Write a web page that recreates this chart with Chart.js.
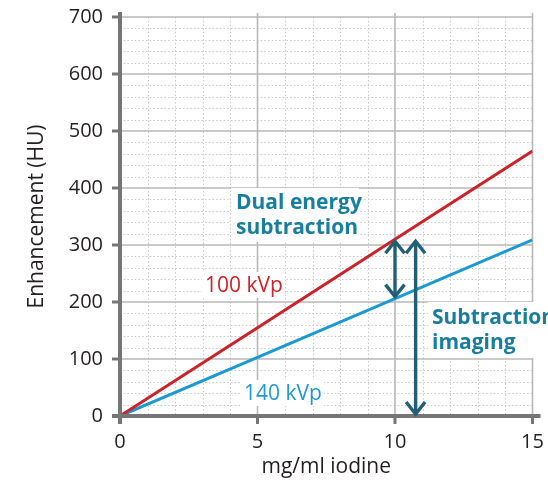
<!DOCTYPE html>
<html><head><meta charset="utf-8">
<script src="https://cdn.jsdelivr.net/npm/chart.js@4/dist/chart.umd.min.js"></script>
<style>html,body{margin:0;padding:0;background:#fff;overflow:hidden}</style>
</head><body>
<canvas id="c" width="548" height="481"></canvas>
<script>
// ---- data ----
const iodine = [0, 5, 10, 15];
const hu100 = [0, 155, 310, 465];
const hu140 = [0, 103, 206, 309];
const seriesLabels = ['100 kVp', '140 kVp'];
const xTickValues = [0, 5, 10, 15];
const yTickValues = [0, 100, 200, 300, 400, 500, 600, 700];
const dualArrow = [10, 206, 310];    // x, from, to
const subArrow = [10.75, 0, 310];    // x, from, to
const dualLabel = ['Dual energy', 'subtraction'];
const subLabel = ['Subtraction', 'imaging'];

const FONT = '"Open Sans", sans-serif';
const TXT = '#231f20';
const RED = '#cc2229';
const BLUE = '#1b9ad2';
const TEAL_TXT = '#177e9e';
const TEAL_ARROW = '#225e74';

const pts = (ys) => iodine.map((x, i) => ({x, y: ys[i]}));

function line(ctx, x1, y1, x2, y2) { ctx.beginPath(); ctx.moveTo(x1, y1); ctx.lineTo(x2, y2); ctx.stroke(); }

const gridPlugin = {
  id: 'gridAxes',
  beforeDatasetsDraw(chart) {
    const {ctx, chartArea: a} = chart;
    const xs = chart.scales.x, ys = chart.scales.y;
    ctx.save();
    // minor dotted grid
    ctx.strokeStyle = '#c8c8c8'; ctx.lineWidth = 1; ctx.setLineDash([1.5, 2.2]);
    for (let v = 1; v < 15; v++) {
      if (v % 5 === 0) continue;
      const px = Math.round(xs.getPixelForValue(v)) + 0.5;
      line(ctx, px, a.top, px, a.bottom);
    }
    for (let v = 20; v < 700; v += 20) {
      if (v % 100 === 0) continue;
      const py = Math.round(ys.getPixelForValue(v)) + 0.5;
      line(ctx, a.left, py, a.right, py);
    }
    // major grid
    ctx.setLineDash([]); ctx.strokeStyle = '#b8b8b8'; ctx.lineWidth = 1.6;
    xs.ticks.forEach(t => { if (t.value === 0) return; const px = xs.getPixelForValue(t.value); line(ctx, px, a.top - 4, px, a.bottom); });
    ys.ticks.forEach(t => { if (t.value === 0) return; const py = ys.getPixelForValue(t.value); line(ctx, a.left, py, a.right, py); });
    ctx.restore();
  },
  afterDatasetsDraw(chart) {
    const {ctx, chartArea: a} = chart;
    const xs = chart.scales.x, ys = chart.scales.y;
    ctx.save();
    // axes
    ctx.strokeStyle = '#767676'; ctx.lineWidth = 4; ctx.lineCap = 'butt';
    const x0 = xs.getPixelForValue(0), y0 = ys.getPixelForValue(0);
    line(ctx, x0, a.top - 5, x0, y0 + 8);
    line(ctx, x0 - 8, y0, a.right + 8, y0);
    ctx.lineWidth = 3;
    ys.ticks.forEach(t => { const py = ys.getPixelForValue(t.value); line(ctx, x0 - 8, py, x0, py); });
    xs.ticks.forEach(t => { const px = xs.getPixelForValue(t.value); line(ctx, px, y0, px, y0 + 8); });

    // arrows
    ctx.strokeStyle = TEAL_ARROW; ctx.lineWidth = 3.4; ctx.lineJoin = 'miter'; ctx.lineCap = 'butt';
    function dArrow(arr) {
      const px = xs.getPixelForValue(arr[0]);
      const yb = ys.getPixelForValue(arr[1]), yt = ys.getPixelForValue(arr[2]);
      line(ctx, px, yt + 2, px, yb - 2);
      ctx.beginPath(); ctx.moveTo(px - 9.5, yt + 14); ctx.lineTo(px, yt + 2); ctx.lineTo(px + 9.5, yt + 14); ctx.stroke();
      ctx.beginPath(); ctx.moveTo(px - 9.5, yb - 14); ctx.lineTo(px, yb - 2); ctx.lineTo(px + 9.5, yb - 14); ctx.stroke();
    }
    dArrow(dualArrow);
    dArrow(subArrow);

    // labels with white backgrounds
    function label(lines, x, baseline, font, color, box) {
      ctx.fillStyle = '#fff';
      ctx.fillRect(box[0], box[1], box[2], box[3]);
      ctx.font = font; ctx.fillStyle = color; ctx.textAlign = 'left'; ctx.textBaseline = 'alphabetic';
      lines.forEach((s, i) => ctx.fillText(s, x, baseline + i * 25));
    }
    label(dualLabel, 236, 209, 'bold 21px ' + FONT, TEAL_TXT, [231, 188, 128, 54]);
    label(subLabel, 432, 324, 'bold 21px ' + FONT, TEAL_TXT, [428, 302, 125, 56]);
    label([seriesLabels[0]], 205, 292, '21px ' + FONT, RED, [202, 272, 82, 26]);
    label([seriesLabels[1]], 244, 400, '21px ' + FONT, BLUE, [241, 380, 83, 26]);
    ctx.restore();
  }
};

new Chart(document.getElementById('c'), {
  type: 'line',
  data: {
    datasets: [
      {label: seriesLabels[0], data: pts(hu100), borderColor: RED, borderWidth: 3, pointRadius: 0, fill: false, tension: 0},
      {label: seriesLabels[1], data: pts(hu140), borderColor: BLUE, borderWidth: 3, pointRadius: 0, fill: false, tension: 0}
    ]
  },
  options: {
    responsive: false, animation: false, devicePixelRatio: 1,
    layout: {padding: {top: 17, right: 15.5, left: 0, bottom: 0}},
    plugins: {legend: {display: false}, tooltip: {enabled: false}},
    scales: {
      x: {
        type: 'linear', min: 0, max: 15,
        afterFit: s => { s.height = 65; s.paddingLeft = 0; s.paddingRight = 0; },
        afterBuildTicks: s => { s.ticks = xTickValues.map(v => ({value: v})); },
        grid: {display: false, drawTicks: false}, border: {display: false},
        ticks: {font: {family: FONT, size: 20}, color: TXT, padding: 14, maxRotation: 0},
        title: {display: true, text: 'mg/ml iodine', font: {family: FONT, size: 21}, color: TXT, padding: {top: 0, bottom: 1}}
      },
      y: {
        type: 'linear', min: 0, max: 700,
        afterFit: s => { s.width = 120; s.paddingTop = 0; s.paddingBottom = 0; },
        afterBuildTicks: s => { s.ticks = yTickValues.map(v => ({value: v})); },
        grid: {display: false, drawTicks: false}, border: {display: false},
        ticks: {font: {family: FONT, size: 20}, color: TXT, padding: 17},
        title: {display: true, text: 'Enhancement (HU)', font: {family: FONT, size: 21}, color: TXT, padding: {top: 24.5, bottom: 0}}
      }
    }
  },
  plugins: [gridPlugin]
});
</script>
</body></html>
